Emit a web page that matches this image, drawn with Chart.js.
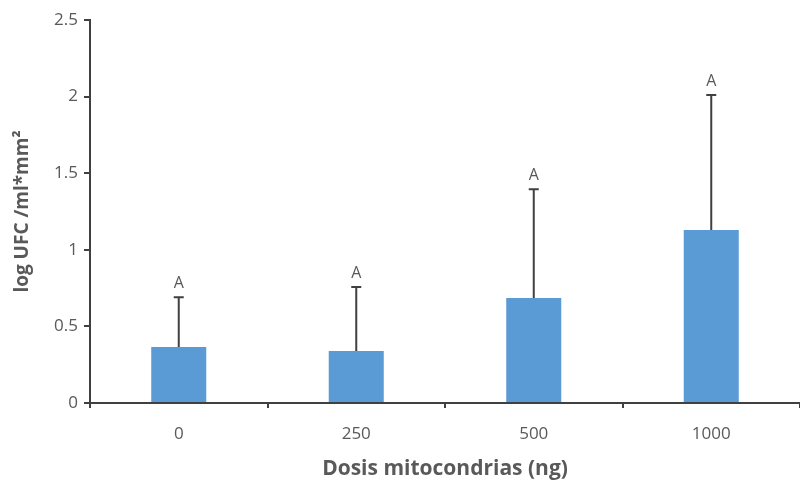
<!DOCTYPE html>
<html>
<head>
<meta charset="utf-8">
<script src="https://cdn.jsdelivr.net/npm/chart.js@4"></script>
<style>
  html, body { margin: 0; padding: 0; background: #fff; }
  #wrap { width: 800px; height: 494px; }
</style>
</head>
<body>
<div id="wrap"><canvas id="chart"></canvas></div>
<script>
// datos
const dosis = ['0', '250', '500', '1000'];
const mediaLogUfc = [0.365, 0.34, 0.685, 1.13];
const errorSup = [0.69, 0.757, 1.395, 2.01];
const letras = ['A', 'A', 'A', 'A'];
const yTicks = [0, 0.5, 1, 1.5, 2, 2.5];

const colorTexto = '#595959';
const colorEje = '#404040';

// barras de error + letras
const errorBars = {
    id: 'errorBars',
    afterDatasetsDraw(chart) {
        const ctx = chart.ctx;
        const meta = chart.getDatasetMeta(0);
        const y = chart.scales.y;
        ctx.save();
        meta.data.forEach((bar, i) => {
            const top = y.getPixelForValue(errorSup[i]);
            ctx.strokeStyle = colorEje;
            ctx.lineWidth = 2;
            ctx.beginPath();
            ctx.moveTo(bar.x, bar.y);
            ctx.lineTo(bar.x, top);
            ctx.moveTo(bar.x - 5, top);
            ctx.lineTo(bar.x + 5, top);
            ctx.stroke();

            ctx.fillStyle = colorTexto;
            ctx.font = '16px "Open Sans", sans-serif';
            ctx.textAlign = 'center';
            ctx.textBaseline = 'bottom';
            ctx.fillText(letras[i], bar.x, top - 6);
        });
        ctx.restore();
    }
};

new Chart(document.getElementById('chart'), {
    type: 'bar',
    data: {
        labels: dosis,
        datasets: [{
            data: mediaLogUfc,
            backgroundColor: '#5B9BD5',
            barPercentage: 0.31,
            categoryPercentage: 1
        }]
    },
    options: {
        responsive: true,
        maintainAspectRatio: false,
        animation: false,
        layout: { padding: { top: 20, right: 0, left: 0, bottom: 0 } },
        plugins: {
            legend: { display: false },
            tooltip: { enabled: false }
        },
        scales: {
            x: {
                offset: true,
                grid: {
                    offset: true,
                    drawOnChartArea: false,
                    drawTicks: true,
                    tickLength: 5,
                    color: colorEje,
                    lineWidth: 2
                },
                border: { color: colorEje, width: 2 },
                ticks: {
                    color: colorTexto,
                    font: { family: '"Open Sans", sans-serif', size: 17 },
                    padding: 16
                },
                title: {
                    display: true,
                    text: 'Dosis mitocondrias (ng)',
                    color: colorTexto,
                    font: { family: '"Open Sans", sans-serif', size: 21, weight: 'bold' },
                    padding: { top: 10, bottom: 12 }
                },
                afterFit(scale) { scale.height = 91; }
            },
            y: {
                min: 0,
                max: 2.5,
                afterBuildTicks(scale) { scale.ticks = yTicks.map(v => ({ value: v })); },
                grid: {
                    drawOnChartArea: false,
                    drawTicks: true,
                    tickLength: 6,
                    color: colorEje,
                    lineWidth: 2
                },
                border: { color: colorEje, width: 2 },
                ticks: {
                    color: colorTexto,
                    font: { family: '"Open Sans", sans-serif', size: 17 },
                    padding: 6,
                    callback: (value) => String(value)
                },
                title: {
                    display: true,
                    text: 'log UFC /ml*mm²',
                    color: colorTexto,
                    font: { family: '"Open Sans", sans-serif', size: 19, weight: 'bold' },
                    padding: { top: 11, bottom: 0 }
                },
                afterFit(scale) { scale.width = 90; }
            }
        }
    },
    plugins: [errorBars]
});
</script>
</body>
</html>
